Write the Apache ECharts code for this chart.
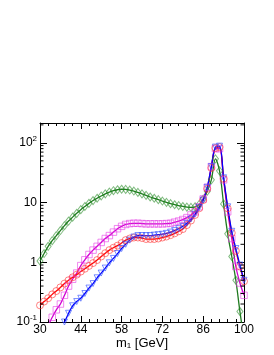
<!DOCTYPE html>
<html><head><meta charset="utf-8">
<script src="https://cdn.jsdelivr.net/npm/echarts@6/dist/echarts.min.js"></script>
<style>html,body{margin:0;padding:0;background:#fff}#c{width:274px;height:355px}</style>
</head><body><div id="c"></div>
<script>
const xTicks = [30, 44, 58, 72, 86, 100];
const yTickLabels = {'-1': '10{sup|-1}', '0': '1', '1': '10', '2': '10{sup|2}'};
const mass = [30,31.4,32.8,34.2,35.6,37,38.4,39.8,41.2,42.6,44,45.4,46.8,48.2,49.6,51,52.4,53.8,55.2,56.6,58,59.4,60.8,62.2,63.6,65,66.4,67.8,69.2,70.6,72,73.4,74.8,76.2,77.6,79,80.4,81.8,83.2,84.6,86,87.4,88.8,90.2,91.6,93,94.4,95.8,97.2,98.6,100];
const green = [1.05,1.4,1.85,2.3,2.8,3.4,4.1,4.9,5.7,6.6,7.6,8.6,9.7,10.8,11.8,12.9,14.0,15.0,15.8,16.4,16.7,16.6,16.2,15.6,14.8,14.0,13.2,12.4,11.8,11.2,10.6,10.1,9.6,9.2,8.9,8.6,8.4,8.3,8.5,9.3,11.5,15.5,24,54,34,9.5,3.0,1.25,0.5,0.15,0.05];
const magenta = [0.055,0.07,0.088,0.12,0.16,0.2,0.28,0.4,0.52,0.66,0.88,1.1,1.35,1.6,1.85,2.15,2.5,2.8,3.2,3.65,4.0,4.3,4.45,4.5,4.5,4.45,4.4,4.4,4.4,4.4,4.4,4.45,4.5,4.7,4.9,5.2,5.6,6.2,7.0,8.5,11.5,18,40,80,80,24,7,2.5,0.85,0.45,0.28];
const red = [0.19,0.22,0.25,0.29,0.33,0.38,0.44,0.5,0.56,0.62,0.7,0.78,0.87,0.97,1.09,1.25,1.42,1.6,1.75,1.9,2.1,2.35,2.5,2.6,2.6,2.55,2.45,2.45,2.45,2.5,2.6,2.7,2.85,3.05,3.3,3.6,4.2,5.0,6.2,8.0,11,17,38,82,85,25,8,3.1,1.55,0.85,0.48];
const blue = [0.03,0.04,0.05,0.06,0.07,0.085,0.1,0.14,0.187,0.22,0.25,0.3,0.37,0.44,0.55,0.66,0.8,0.98,1.16,1.4,1.7,2.0,2.35,2.65,2.8,2.8,2.8,2.8,2.85,2.9,2.95,3.05,3.2,3.4,3.65,4.0,4.5,5.3,6.4,8.2,11,18,40,85,88,26,8.5,3.3,1.7,0.9,0.5];
const yMinor = [0.2,0.3,0.4,0.5,0.6,0.7,0.8,0.9,2,3,4,5,6,7,8,9,20,30,40,50,60,70,80,90,200];

const YMIN = 0.1, YMAX = 215;
const chart = echarts.init(document.getElementById('c'), null, {renderer: 'canvas'});
const pairs = arr => mass.map((m, i) => [m, arr[i]]);
const FONT = 'Liberation Sans';

function lineSeries(arr, color) {
  return {type: 'line', data: pairs(arr), smooth: 0.35, symbol: 'none', z: 3,
    lineStyle: {color: color, width: 1.3}, silent: true, animation: false};
}
function markSeries(arr, color, symbol, size, rot) {
  return {type: 'scatter', data: pairs(arr), symbol: symbol, symbolSize: size, symbolRotate: rot || 0, z: 4,
    itemStyle: {color: 'rgba(0,0,0,0)', borderColor: color, borderWidth: 1}, silent: true, animation: false};
}
const yLabelFmt = v => {
  const l = Math.log10(v), e = Math.round(l);
  if (Math.abs(l - e) > 1e-6) return '';
  return yTickLabels[String(e)] || '';
};
const yAxisBase = {type: 'log', logBase: 10, min: YMIN, max: YMAX,
  axisLine: {show: true, lineStyle: {color: '#000', width: 1}},
  axisTick: {show: true, inside: true, length: 7, lineStyle: {color: '#000'}},
  splitLine: {show: false}, minorTick: {show: false}};
const xAxisBase = {type: 'value', min: 30, max: 100, interval: 14,
  axisLine: {show: true, onZero: false, lineStyle: {color: '#000', width: 1}},
  axisTick: {show: true, inside: true, length: 6, lineStyle: {color: '#000'}},
  minorTick: {show: true, splitNumber: 5, length: 3, lineStyle: {color: '#000'}},
  splitLine: {show: false}};

chart.setOption({
  animation: false,
  backgroundColor: '#fff',
  grid: {left: 40, right: 30, top: 123, bottom: 33, containLabel: false, outerBoundsMode: 'none'},
  xAxis: [
    Object.assign({}, xAxisBase, {position: 'bottom',
      name: 'm{sub|1} [GeV]', nameLocation: 'middle', nameGap: 14, nameMoveOverlap: false,
      nameTextStyle: {fontFamily: FONT, fontSize: 13, color: '#000',
        rich: {sub: {fontSize: 8, verticalAlign: 'bottom', padding: [6, 0, 0, 0], fontFamily: FONT}}},
      axisLabel: {show: true, fontFamily: FONT, fontSize: 12, color: '#000', margin: 2,
        formatter: v => xTicks.indexOf(v) >= 0 ? String(v) : ''}}),
    Object.assign({}, xAxisBase, {position: 'top', axisLabel: {show: false}})
  ],
  yAxis: [
    Object.assign({}, yAxisBase, {position: 'left',
      axisLabel: {show: true, fontFamily: FONT, fontSize: 12, color: '#000', margin: 3,
        formatter: yLabelFmt,
        rich: {sup: {fontSize: 8, verticalAlign: 'top', padding: [0, 0, 8, 0], fontFamily: FONT}}}}),
    Object.assign({}, yAxisBase, {position: 'right', axisLabel: {show: false}})
  ],
  series: [
    lineSeries(green, '#1f7a1f'),
    lineSeries(magenta, '#d000d0'),
    lineSeries(red, '#ff0000'),
    lineSeries(blue, '#0000ff'),
    markSeries(green, 'rgba(40,140,40,0.75)', 'diamond', [6, 8]),
    markSeries(magenta, 'rgba(230,60,230,0.75)', 'rect', 6.5),
    markSeries(red, 'rgba(255,60,60,0.8)', 'circle', 7),
    markSeries(blue, 'rgba(50,80,255,0.8)', 'triangle', 6, 180),
    {type: 'custom', silent: true, z: 5, clip: false,
      data: yMinor.map(v => [30, v]),
      renderItem: (params, api) => {
        const v = api.value(1);
        const pl = api.coord([30, v]);
        const pr = api.coord([100, v]);
        return {type: 'group', children: [
          {type: 'line', shape: {x1: pl[0], y1: pl[1], x2: pl[0] + 3.5, y2: pl[1]}, style: {stroke: '#000', lineWidth: 1}},
          {type: 'line', shape: {x1: pr[0], y1: pr[1], x2: pr[0] - 3.5, y2: pr[1]}, style: {stroke: '#000', lineWidth: 1}}
        ]};
      }}
  ]
});
</script></body></html>
